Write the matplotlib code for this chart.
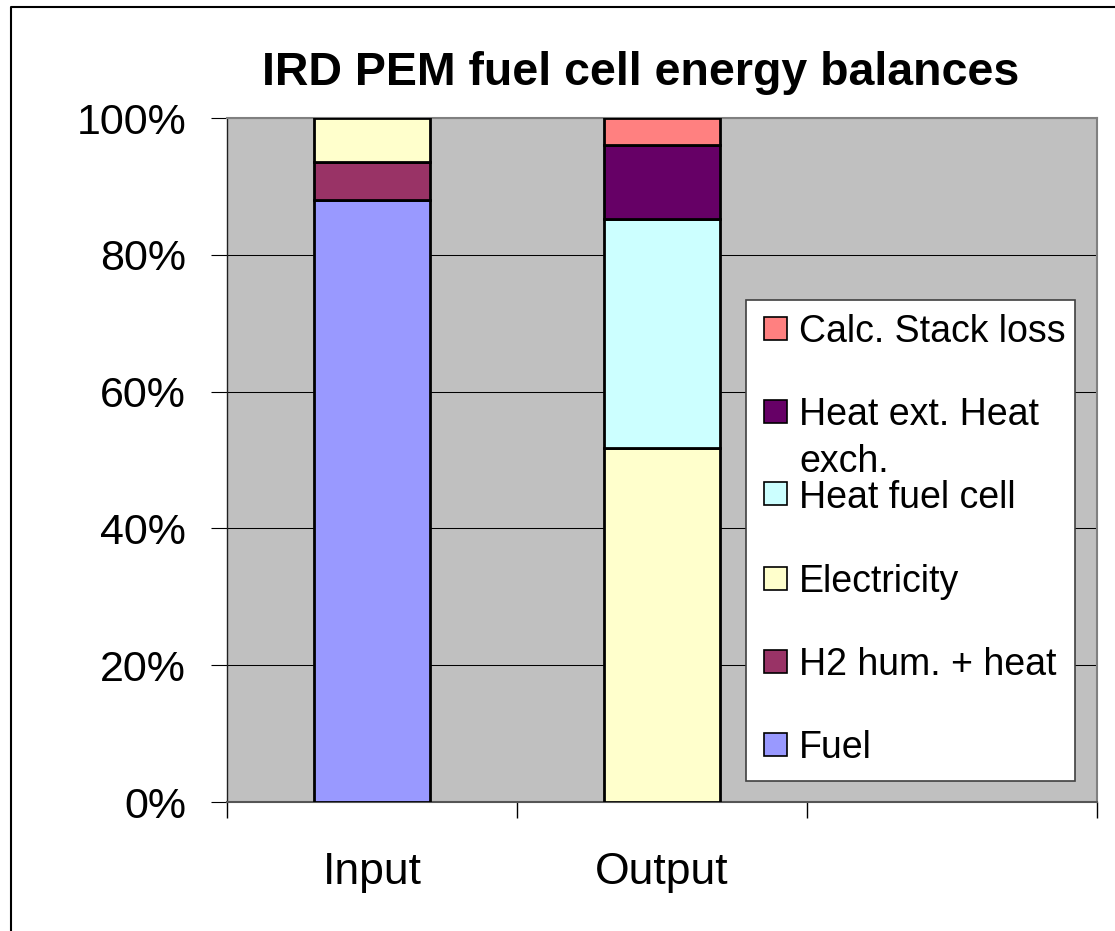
import matplotlib
matplotlib.use("Agg")
import matplotlib.pyplot as plt
from matplotlib.patches import Rectangle
from matplotlib.lines import Line2D
import numpy as np

plt.rcParams['font.family'] = ['Liberation Sans', 'DejaVu Sans']

# ---- data ----
categories = ["Input", "Output", ""]
series_names = ["Fuel", "H2 hum. + heat", "Electricity", "Heat fuel cell",
                "Heat ext. Heat exch.", "Calc. Stack loss"]
fuel = [88.0, 0.0, 0.0]
h2_hum_heat = [5.5, 0.0, 0.0]
electricity = [6.5, 51.7, 0.0]
heat_fuel_cell = [0.0, 33.5, 0.0]
heat_ext = [0.0, 10.8, 0.0]
calc_stack_loss = [0.0, 4.0, 0.0]
series_values = [fuel, h2_hum_heat, electricity, heat_fuel_cell, heat_ext, calc_stack_loss]
colors = ["#9999FF", "#993366", "#FFFFCC", "#CCFFFF", "#660066", "#FF8080"]
yticks = [0, 20, 40, 60, 80, 100]
ytick_labels = ["0%", "20%", "40%", "60%", "80%", "100%"]
title = "IRD PEM fuel cell energy balances"

W, H = 1115, 931
fig = plt.figure(figsize=(W / 100, H / 100), dpi=100)
fig.patch.set_facecolor("white")

def fx(px):
    return px / W

def fy(py):
    return 1 - py / H

ax_left, ax_right, ax_top, ax_bottom = 227, 1097, 118, 802
ax = fig.add_axes([fx(ax_left), fy(ax_bottom), fx(ax_right - ax_left), (ax_bottom - ax_top) / H])
ax.set_facecolor("#C0C0C0")

x = np.arange(len(categories))
bottom = np.zeros(len(categories))
for vals, col in zip(series_values, colors):
    v = np.array(vals)
    lws = [2.0 if val > 0 else 0.0 for val in v]
    ax.bar(x, v, width=0.40, bottom=bottom, color=col, edgecolor="black",
           linewidth=lws, zorder=3)
    bottom += v

ax.set_xlim(-0.5, 2.5)
ax.set_ylim(0, 100)
ax.set_yticks(yticks)
ax.set_yticklabels(ytick_labels, fontsize=31)
ax.tick_params(axis="y", length=11.5, width=0.8, color="black", pad=18)
ax.set_xticks(x)
ax.set_xticklabels(categories, fontsize=32)
ax.tick_params(axis="x", which="major", length=0, pad=36)
ax.set_xticks([-0.5, 0.5, 1.5, 2.5], minor=True)
ax.tick_params(axis="x", which="minor", length=11.5, width=1.0, color="black")

ax.grid(axis="y", color="black", linewidth=0.75, zorder=1)
ax.set_axisbelow(True)
for s in ["top", "right"]:
    ax.spines[s].set_color("#808080")
    ax.spines[s].set_linewidth(1.5)
ax.spines["left"].set_color("#202020")
ax.spines["left"].set_linewidth(1.0)
ax.spines["bottom"].set_color("#555555")
ax.spines["bottom"].set_linewidth(1.5)

# title
fig.text(fx(641), fy(85), title, ha="center", va="baseline",
         fontsize=33.5, fontweight="bold")

# legend (manual layout, top-to-bottom in reverse series order)
box = Rectangle((fx(746), fy(781)), fx(1075 - 746), (781 - 300) / H,
                transform=fig.transFigure, facecolor="white",
                edgecolor="#404040", linewidth=1.2, zorder=5)
fig.patches.append(box)
legend_labels = ["Calc. Stack loss", "Heat ext. Heat\nexch.", "Heat fuel cell",
                 "Electricity", "H2 hum. + heat", "Fuel"]
legend_colors = colors[::-1]
baselines = [342, 425, 508, 592, 675, 758]
for lab, col, bl in zip(legend_labels, legend_colors, baselines):
    cy = bl - 14
    sq = Rectangle((fx(764), fy(cy + 11.5)), fx(23), 23 / H,
                   transform=fig.transFigure, facecolor=col,
                   edgecolor="black", linewidth=1.2, zorder=6)
    fig.patches.append(sq)
    lines = lab.split("\n")
    for i, ln in enumerate(lines):
        fig.text(fx(799), fy(bl + i * 47), ln, ha="left", va="baseline",
                 fontsize=27, zorder=7)

# outer frame
fig.lines.append(Line2D([fx(11), fx(11), fx(W + 5)], [fy(H + 5), fy(7), fy(7)],
                        transform=fig.transFigure, color="black", linewidth=1.5))

fig.savefig("out.png", dpi=100)
